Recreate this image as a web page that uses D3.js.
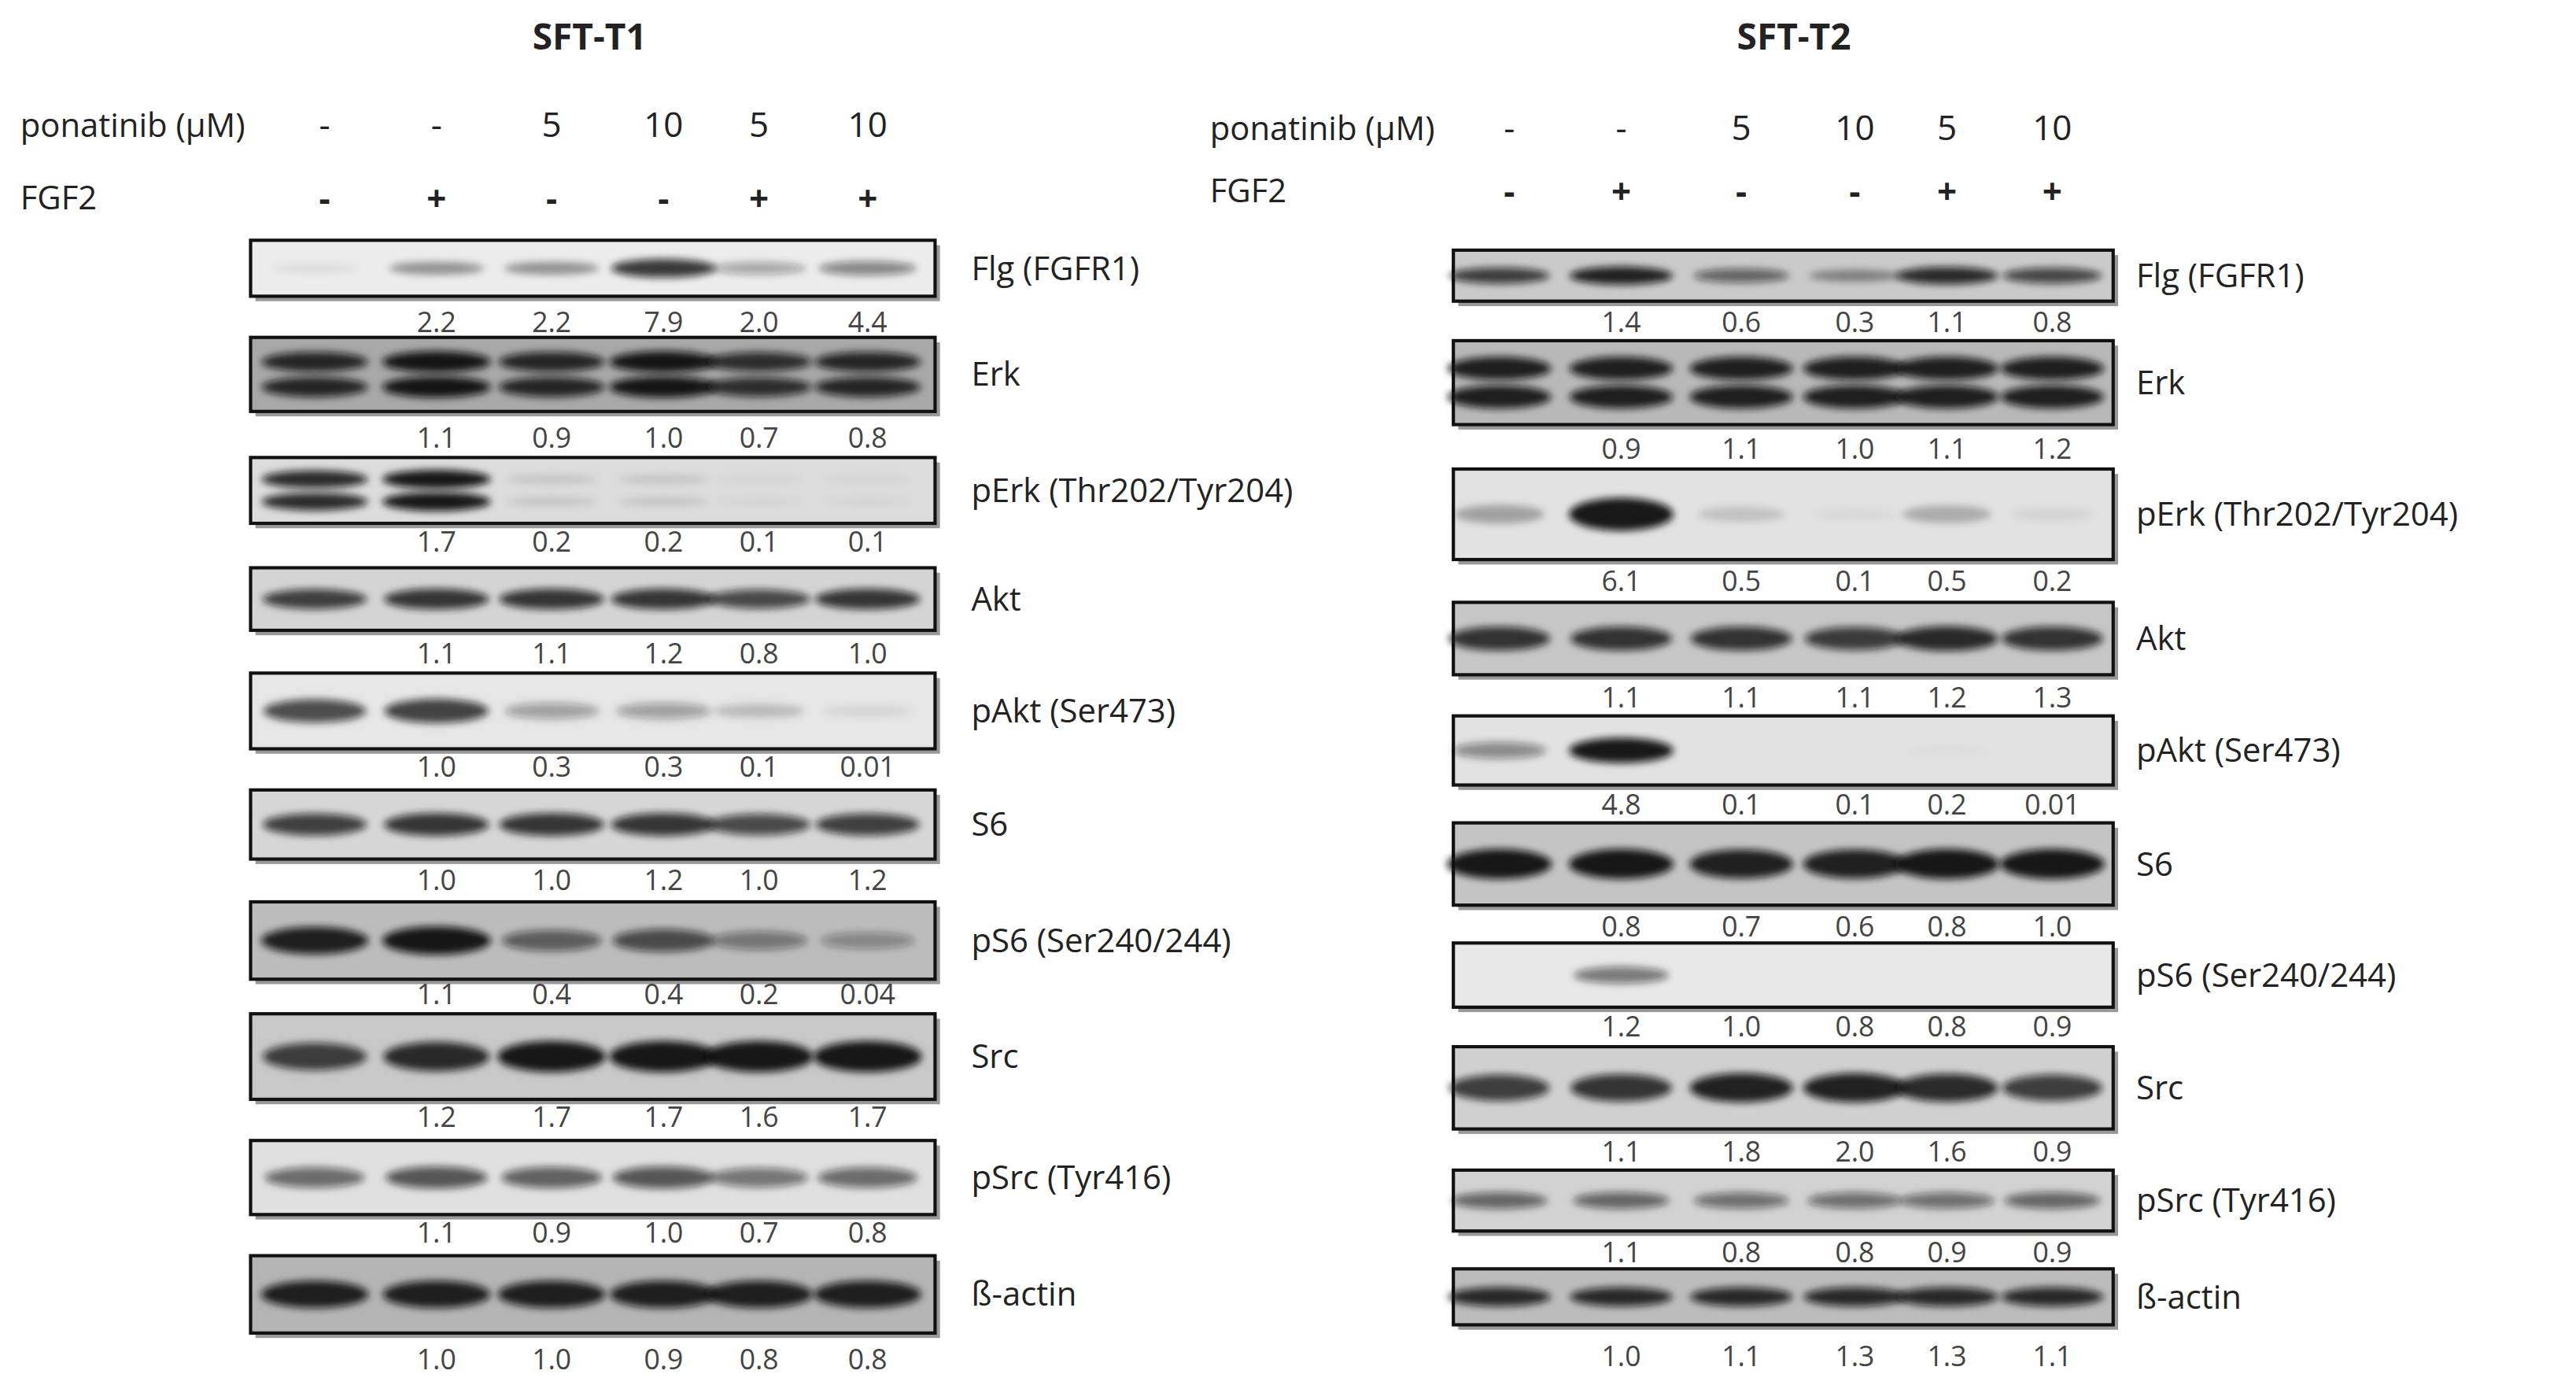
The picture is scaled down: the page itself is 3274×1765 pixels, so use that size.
<!DOCTYPE html>
<html><head><meta charset="utf-8">
<script src="https://cdn.jsdelivr.net/npm/d3@7"></script>
<style>body{margin:0;background:#fff}</style>
</head><body><div id="chart"></div>
<script>
// blot data: visual band intensity (0..1) per lane, and quantified values (lane 1 is reference)
var ponatinib = ["-", "-", "5", "10", "5", "10"];
var fgf2 = ["-", "+", "-", "-", "+", "+"];
var proteins = ["Flg (FGFR1)", "Erk", "pErk (Thr202/Tyr204)", "Akt", "pAkt (Ser473)", "S6",
                "pS6 (Ser240/244)", "Src", "pSrc (Tyr416)", "ß-actin"];

var t1Bands = [
  [0.08, 0.4, 0.4, 0.85, 0.35, 0.5],
  [0.9, 1, 0.9, 1, 0.85, 0.9],
  [0.9, 1, 0.12, 0.12, 0.04, 0.04],
  [0.8, 0.85, 0.85, 0.85, 0.75, 0.85],
  [0.75, 0.8, 0.35, 0.35, 0.2, 0.08],
  [0.8, 0.85, 0.85, 0.85, 0.75, 0.8],
  [0.95, 1, 0.6, 0.7, 0.45, 0.35],
  [0.8, 0.9, 1, 1, 1, 1],
  [0.6, 0.7, 0.65, 0.7, 0.55, 0.6],
  [0.95, 0.95, 0.95, 0.95, 0.95, 0.95]];
var t1Values = [
  ["2.2", "2.2", "7.9", "2.0", "4.4"],
  ["1.1", "0.9", "1.0", "0.7", "0.8"],
  ["1.7", "0.2", "0.2", "0.1", "0.1"],
  ["1.1", "1.1", "1.2", "0.8", "1.0"],
  ["1.0", "0.3", "0.3", "0.1", "0.01"],
  ["1.0", "1.0", "1.2", "1.0", "1.2"],
  ["1.1", "0.4", "0.4", "0.2", "0.04"],
  ["1.2", "1.7", "1.7", "1.6", "1.7"],
  ["1.1", "0.9", "1.0", "0.7", "0.8"],
  ["1.0", "1.0", "0.9", "0.8", "0.8"]];

var t2Bands = [
  [0.8, 0.95, 0.6, 0.4, 0.9, 0.75],
  [0.95, 0.95, 0.95, 0.95, 0.95, 0.95],
  [0.3, 1, 0.15, 0.04, 0.25, 0.06],
  [0.85, 0.85, 0.85, 0.8, 0.9, 0.85],
  [0.45, 1, 0, 0, 0.02, 0],
  [1, 1, 0.95, 0.95, 1, 1],
  [0, 0.55, 0, 0, 0, 0],
  [0.8, 0.85, 0.95, 0.95, 0.9, 0.8],
  [0.6, 0.6, 0.55, 0.55, 0.55, 0.6],
  [0.9, 0.9, 0.9, 0.9, 0.9, 0.9]];
var t2Values = [
  ["1.4", "0.6", "0.3", "1.1", "0.8"],
  ["0.9", "1.1", "1.0", "1.1", "1.2"],
  ["6.1", "0.5", "0.1", "0.5", "0.2"],
  ["1.1", "1.1", "1.1", "1.2", "1.3"],
  ["4.8", "0.1", "0.1", "0.2", "0.01"],
  ["0.8", "0.7", "0.6", "0.8", "1.0"],
  ["1.2", "1.0", "0.8", "0.8", "0.9"],
  ["1.1", "1.8", "2.0", "1.6", "0.9"],
  ["1.1", "0.8", "0.8", "0.9", "0.9"],
  ["1.0", "1.1", "1.3", "1.3", "1.1"]];

// layout (viewBox units ~ 1565 x 844)
var panels = [
  {title: "SFT-T1", tx: 358, bands: t1Bands, vals: t1Values, x0: 152, x1: 568, lx: 590,
   labX: 12, headY: 76, fgfY: 120, laneX: [197, 265, 335, 403, 461, 527],
   rows: [[146,180,196],[205,250,266],[278,318,329],[345,383,397],[409,455,466],[480,522,535],
          [548,595,604],[616,668,679],[693,738,749],[763,810,826]],
   bg: ["#ececec","#a8a8a8","#dcdcdc","#d4d4d4","#e6e6e6","#d6d6d6","#bcbcbc","#c8c8c8","#e0e0e0","#b4b4b4"],
   dbl: [false,true,true,false,false,false,false,false,false,false]},
  {title: "SFT-T2", tx: 1090, bands: t2Bands, vals: t2Values, x0: 883, x1: 1284, lx: 1298,
   labX: 735, headY: 78, fgfY: 116, laneX: [917, 985, 1058, 1127, 1183, 1247],
   rows: [[152,183,196],[207,258,273],[285,340,353],[366,410,424],[435,477,489],[500,550,563],
          [573,612,624],[636,686,700],[711,748,761],[771,805,824]],
   bg: ["#cacaca","#b8b8b8","#e2e2e2","#c6c6c6","#e2e2e2","#c4c4c4","#e8e8e8","#d0d0d0","#d2d2d2","#bcbcbc"],
   dbl: [false,true,false,false,false,false,false,false,false,false]}
];

var svg = d3.select("#chart").append("svg")
  .attr("width", 3274).attr("height", 1765)
  .attr("viewBox", "0 0 1565 844")
  .style("font-family", "'Open Sans', 'Liberation Sans', sans-serif");

var defs = svg.append("defs");
defs.append("filter").attr("id", "blur").attr("x", "-20%").attr("y", "-60%")
  .attr("width", "140%").attr("height", "220%")
  .append("feGaussianBlur").attr("stdDeviation", 2.2);

var shade = d3.scaleLinear().domain([0, 1]).range([0, 0.95]);

panels.forEach(function (p) {
  var g = svg.append("g");
  g.append("text").attr("x", p.tx).attr("y", 30).attr("text-anchor", "middle")
    .attr("font-size", 22).attr("font-weight", "bold").attr("fill", "#222").text(p.title);
  g.append("text").attr("x", p.labX).attr("y", p.headY + 7).attr("font-size", 20).attr("fill", "#222").text("ponatinib (µM)");
  g.append("text").attr("x", p.labX).attr("y", p.fgfY + 7).attr("font-size", 20).attr("fill", "#222").text("FGF2");
  g.selectAll(".pon").data(ponatinib).enter().append("text")
    .attr("x", function (d, i) { return p.laneX[i]; }).attr("y", p.headY + 7)
    .attr("text-anchor", "middle").attr("font-size", 21).attr("fill", "#222").text(function (d) { return d; });
  g.selectAll(".fgf").data(fgf2).enter().append("text")
    .attr("x", function (d, i) { return p.laneX[i]; }).attr("y", p.fgfY + 8)
    .attr("text-anchor", "middle").attr("font-size", 21).attr("font-weight", "bold")
    .attr("fill", "#222").text(function (d) { return d; });

  var laneW = (p.x1 - p.x0) / 6 * 0.95;
  proteins.forEach(function (name, r) {
    var row = p.rows[r], top = row[0], bot = row[1], h = bot - top;
    g.append("rect").attr("x", p.x0 + 3).attr("y", top + 3).attr("width", p.x1 - p.x0).attr("height", h).attr("fill", "#999");
    g.append("rect").attr("x", p.x0).attr("y", top).attr("width", p.x1 - p.x0).attr("height", h)
      .attr("fill", p.bg[r]).attr("stroke", "#111").attr("stroke-width", 2);
    var cy = (top + bot) / 2;
    var offs = p.dbl[r] ? [-h * 0.17, h * 0.17] : [0];
    var bh = p.dbl[r] ? h * 0.11 : h * 0.14;
    offs.forEach(function (o) {
      g.selectAll(null).data(p.bands[r]).enter().append("ellipse")
        .attr("cx", function (d, i) { return p.laneX[i] + (i === 0 ? -6 : 0); })
        .attr("cy", cy + o)
        .attr("rx", function (d) { return laneW / 2 * (0.8 + 0.2 * d); })
        .attr("ry", function (d) { return bh * (0.5 + 0.8 * d); })
        .attr("fill", "#111").attr("fill-opacity", function (d) { return shade(d); })
        .attr("filter", "url(#blur)");
    });
    g.append("text").attr("x", p.lx).attr("y", cy + 7).attr("font-size", 20).attr("fill", "#222").text(name);
    g.selectAll(null).data(p.vals[r]).enter().append("text")
      .attr("x", function (d, i) { return p.laneX[i + 1]; }).attr("y", row[2] + 6)
      .attr("text-anchor", "middle").attr("font-size", 17).attr("fill", "#444").text(function (d) { return d; });
  });
});
</script></body></html>
